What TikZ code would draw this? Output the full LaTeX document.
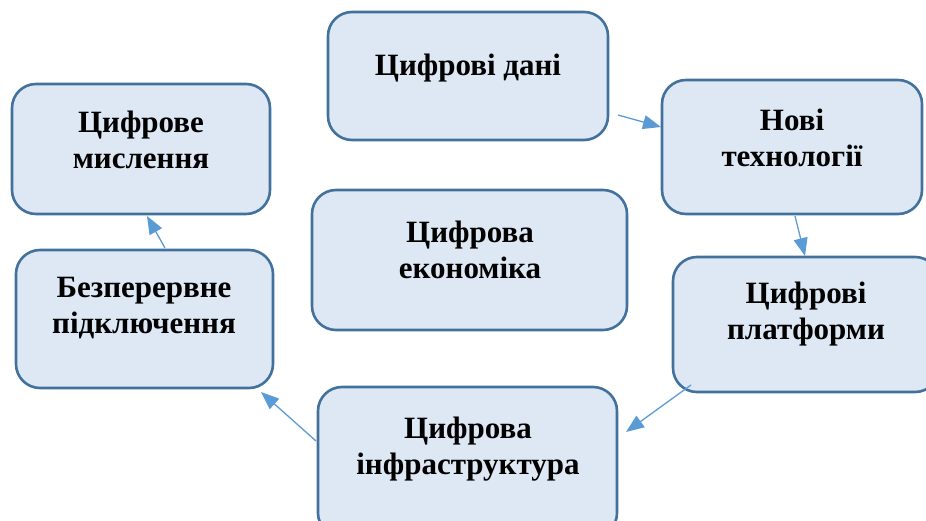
\documentclass[tikz,border=0pt]{standalone}
\usepackage{fontspec}
\setmainfont{Liberation Serif}
\usetikzlibrary{arrows.meta}
\definecolor{boxfill}{HTML}{DDE8F4}
\definecolor{boxline}{HTML}{41719C}
\definecolor{arrowc}{HTML}{5B9BD5}
\tikzset{
  card/.style={draw=boxline, fill=boxfill, line width=2.6pt, rounded corners=24pt, inner sep=0pt},
  lbl/.style={font=\fontsize{31}{36}\selectfont\bfseries, align=center, inner sep=0pt},
  conn/.style={draw=arrowc, line width=1.3pt, -{Triangle[length=18pt,width=14pt]}}
}
\begin{document}
\begin{tikzpicture}[x=1pt,y=-1pt]
\useasboundingbox (0,0) rectangle (926,521);
\clip (0,0) rectangle (926,521);
% boxes
\node[card, minimum width=280pt, minimum height=128pt] (A) at (468,76) {};
\node[card, minimum width=260pt, minimum height=134pt] (B) at (792,147) {};
\node[card, minimum width=258pt, minimum height=130pt] (C) at (141,149) {};
\node[card, minimum width=315pt, minimum height=140pt] (D) at (469.5,260) {};
\node[card, minimum width=257pt, minimum height=138pt] (E) at (144.5,319) {};
\node[card, minimum width=266pt, minimum height=135pt] (F) at (806,324.5) {};
\node[card, minimum width=299pt, minimum height=150pt] (G) at (467.5,462) {};
% labels
\node[lbl] (At) at (468,68) {Цифрові дані};
\node[lbl] (Bt) at (792,138) {Нові\\технології};
\node[lbl] (Ct) at (141,139.5) {Цифрове\\мислення};
\node[lbl] (Dt) at (470,250) {Цифрова\\економіка};
\node[lbl] (Et) at (144,308.5) {Безперервне\\підключення};
\node[lbl] (Ft) at (806,314) {Цифрові\\платформи};
\node[lbl] (Gt) at (468,449) {Цифрова\\інфраструктура};
% connector ends
\coordinate (ab1) at (618,115); \coordinate (ab2) at (661,127);
\coordinate (bf1) at (795,216); \coordinate (bf2) at (805,256);
\coordinate (fg1) at (691,385); \coordinate (fg2) at (626,432);
\coordinate (ge1) at (316,441); \coordinate (ge2) at (261,392);
\coordinate (ec1) at (165,248); \coordinate (ec2) at (147,216);
\draw[conn] (ab1) -- (ab2);
\draw[conn] (bf1) -- (bf2);
\draw[conn] (fg1) -- (fg2);
\draw[conn] (ge1) -- (ge2);
\draw[conn] (ec1) -- (ec2);
\end{tikzpicture}
\end{document}
